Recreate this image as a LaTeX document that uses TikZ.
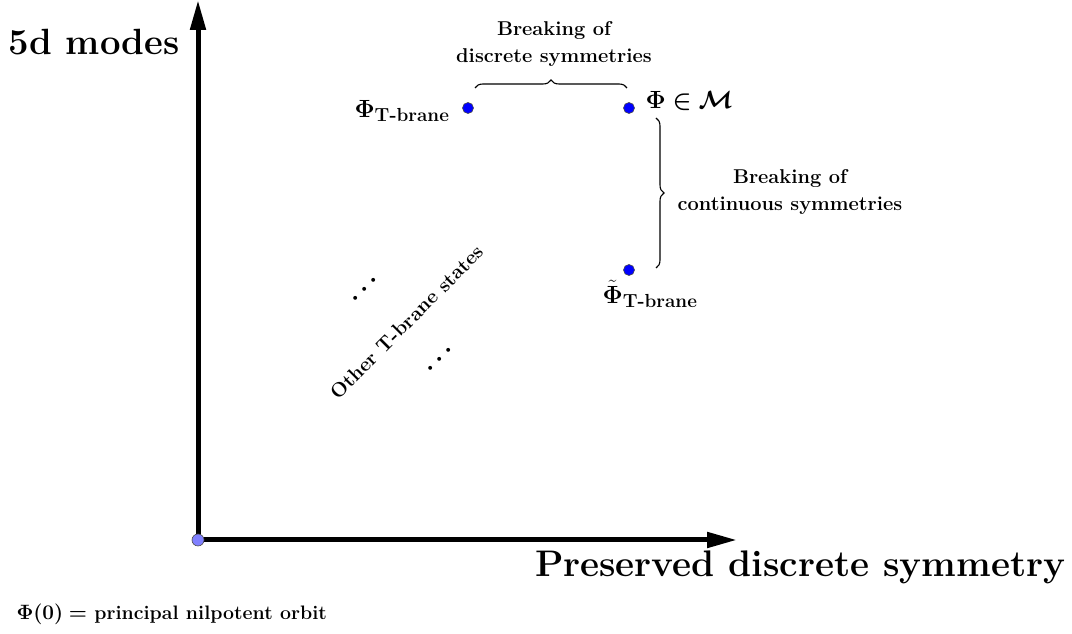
\documentclass[tikz,border=0pt]{standalone}
\usepackage{tikz}
\usetikzlibrary{arrows.meta}
\usetikzlibrary{decorations.pathreplacing}
\usepackage{amsmath}
\usepackage{amssymb}
\usepackage{bm}

\begin{document}
\begin{tikzpicture}[x=1pt, y=1pt,
	axis/.style={line width=5, -{Triangle[length=30, width=15]}},
	dot/.style={circle, draw=black!70, fill=blue, inner sep=0, minimum size=11, line width=0.6},
	brace/.style={decorate, decoration={brace, amplitude=8}, line width=1.1},
	lbl/.style={font=\fontsize{20}{27}\selectfont\bfseries, align=center}
	]
	\useasboundingbox (0, 0) rectangle (1072, 634);

	\coordinate (O) at (198, 94);
	\coordinate (Ytop) at (198, 634);
	\coordinate (Xend) at (737, 94);

	\draw [axis] (O) -- (Ytop);
	\draw [axis] (O) -- (Xend);
	\node [dot, fill=blue!50!white, minimum size=12] (origin) at (O) {};

	\node [dot] (A) at (468, 526) {};
	\node [dot] (B) at (629, 526) {};
	\node [dot] (C) at (629, 364) {};

	\node [anchor=east, font=\fontsize{27}{30}\selectfont] (Alab) at (453, 523) {$\bm{\Phi}_{\textbf{T-brane}}$};
	\node [anchor=west, font=\fontsize{27}{30}\selectfont] (Blab) at (642, 533) {$\bm{\Phi \in \mathcal{M}}$};
	\node [anchor=north, font=\fontsize{27}{30}\selectfont] (Clab) at (650, 357) {$\tilde{\bm{\Phi}}_{\textbf{T-brane}}$};

	\coordinate (b1) at (475, 546);
	\coordinate (b2) at (627, 546);
	\draw [brace] (b1) -- (b2);
	\node [lbl] (top) at (554, 590) {Breaking of\\discrete symmetries};

	\coordinate (c1) at (656, 516);
	\coordinate (c2) at (656, 366);
	\draw [brace] (c1) -- (c2);
	\node [lbl] (side) at (790, 442) {Breaking of\\continuous symmetries};

	\node [rotate=45, font=\fontsize{20}{22}\selectfont\bfseries] (other) at (407, 312) {Other T-brane states};
	\node [rotate=45, font=\fontsize{24}{26}\selectfont\boldmath] (d1) at (366, 346) {$\dots$};
	\node [rotate=45, font=\fontsize{24}{26}\selectfont\boldmath] (d2) at (441, 276) {$\dots$};

	\node [anchor=base east, font=\fontsize{36.5}{40}\selectfont\bfseries] (ylab) at (183, 579) {5d modes};
	\node [anchor=base east, font=\fontsize{37}{40}\selectfont\bfseries] (xlab) at (1069, 57) {Preserved discrete symmetry};
	\node [anchor=base west, font=\fontsize{19.5}{22}\selectfont\bfseries] (note) at (13, 14) {$\bm{\Phi(0) =}$ principal nilpotent orbit};

\end{tikzpicture}
\end{document}
